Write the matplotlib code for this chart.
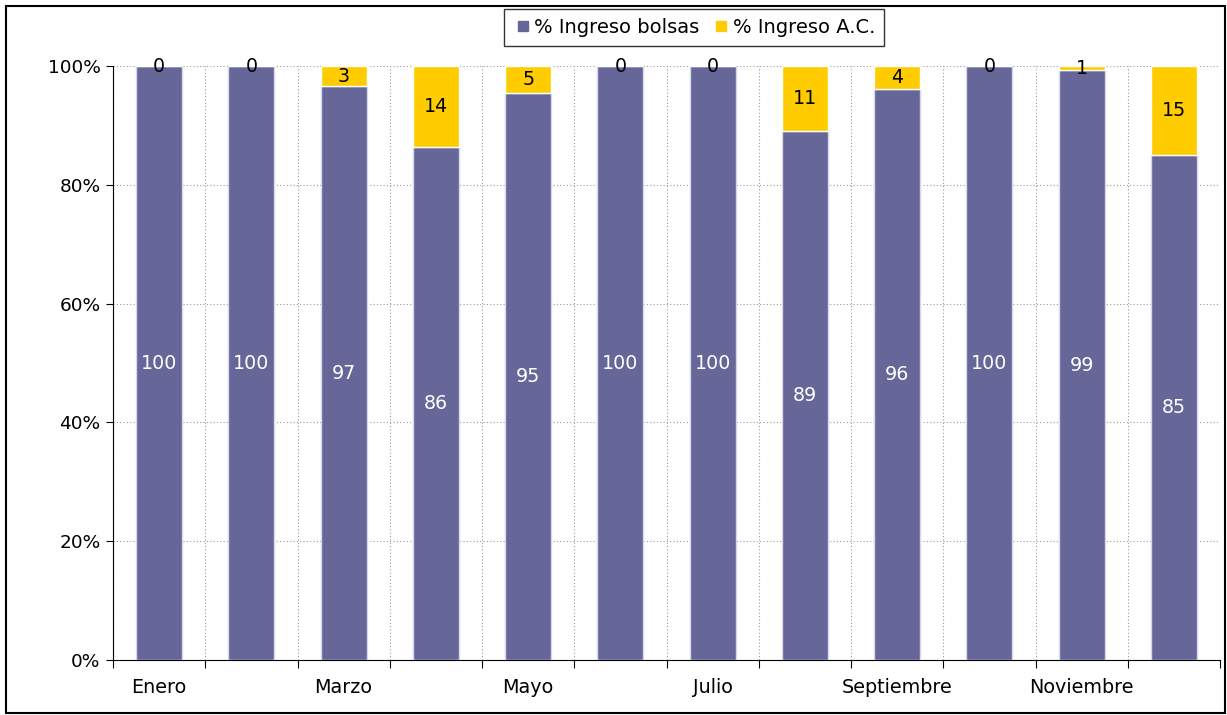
import numpy as np
import matplotlib
matplotlib.use("Agg")
import matplotlib.pyplot as plt
from matplotlib.lines import Line2D
from matplotlib.patches import Rectangle

meses = ["Enero", "Febrero", "Marzo", "Abril", "Mayo", "Junio", "Julio",
         "Agosto", "Septiembre", "Octubre", "Noviembre", "Diciembre"]
bolsas = [100, 100, 96.6, 86.4, 95.4, 100, 100, 89.1, 96.2, 100, 99.3, 85.0]
ac = [0, 0, 3.4, 13.6, 4.6, 0, 0, 10.9, 3.8, 0, 0.7, 15.0]
yticks = [0, 20, 40, 60, 80, 100]

c_bol = "#666699"
c_ac = "#FFCC00"

plt.rcParams["font.family"] = "DejaVu Sans"
fig = plt.figure(figsize=(12.27, 7.15), dpi=100)
ax = fig.add_axes([113 / 1227, 1 - 660 / 715, (1220 - 113) / 1227, (660 - 66) / 715])

x = np.arange(len(meses))
ax.bar(x, bolsas, width=0.5, color=c_bol, edgecolor="#d8d8ec", linewidth=1, zorder=3)
ax.bar(x, ac, width=0.5, bottom=bolsas, color=c_ac, edgecolor="white", linewidth=1, zorder=3)

for xi, v in zip(x, bolsas):
    ax.text(xi, v / 2, "%.0f" % v, ha="center", va="center", color="white", fontsize=13.7, zorder=4)
for xi, v, b in zip(x, ac, bolsas):
    ax.text(xi, b + v / 2, "%.0f" % v, ha="center", va="center", color="black", fontsize=13.7, zorder=4)

ax.set_xlim(-0.5, len(meses) - 0.5)
ax.set_ylim(0, 100)
ax.set_yticks(yticks)
ax.set_yticklabels(["%d%%" % t for t in yticks], fontsize=13.3)
ax.tick_params(axis="y", length=5, direction="out", pad=4)

ax.set_xticks(np.arange(-0.5, len(meses), 1))
ax.set_xticklabels([])
ax.tick_params(axis="x", which="major", length=6, direction="out")
ax.set_xticks(x, minor=True)
ax.set_xticklabels([m if i % 2 == 0 else "" for i, m in enumerate(meses)], minor=True, fontsize=13.8)
ax.tick_params(axis="x", which="minor", length=0, pad=13)

ax.grid(True, which="major", color="#999999", linestyle=(0, (1, 2)), linewidth=0.8, zorder=0)
ax.set_axisbelow(True)
for s in ["top", "right"]:
    ax.spines[s].set_visible(False)

handles = [Line2D([], [], marker="s", linestyle="none", markersize=7, color=c_bol),
           Line2D([], [], marker="s", linestyle="none", markersize=7, color=c_ac)]
leg = fig.legend(handles, ["% Ingreso bolsas", "% Ingreso A.C."], loc="center",
                 bbox_to_anchor=(694 / 1227, 1 - 27.5 / 715), ncol=2, fontsize=14,
                 frameon=True, fancybox=False, edgecolor="black", handletextpad=0.1,
                 columnspacing=0.6, handlelength=1.0, borderpad=0.45)
leg.get_frame().set_linewidth(1.0)

fig.patches.append(Rectangle((6 / 1227, 2 / 715), 1 - 8 / 1227, 1 - 8 / 715, transform=fig.transFigure,
                             fill=False, edgecolor="black", linewidth=1.5))

fig.savefig("out.png", dpi=100)
